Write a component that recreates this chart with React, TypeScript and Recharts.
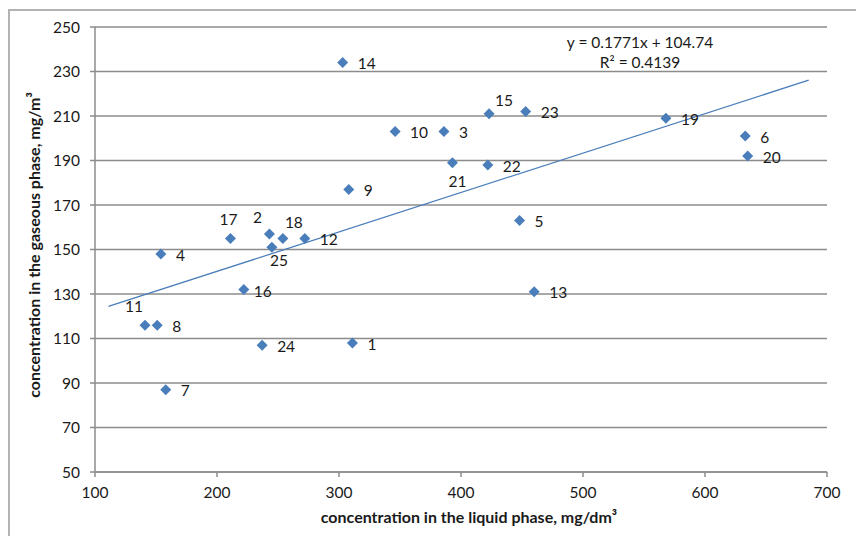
import { CartesianGrid, ReferenceLine, Scatter, ScatterChart, XAxis, YAxis } from "recharts";

const sampleIds = [1, 2, 3, 4, 5, 6, 7, 8, 9, 10, 11, 12, 13, 14, 15, 16, 17, 18, 19, 20, 21, 22, 23, 24, 25];
const liquidPhase = [311, 243, 386, 154, 448, 633, 158, 151, 308, 346, 141, 272, 460, 303, 423, 222, 211, 254, 568, 635, 393, 422, 453, 237, 245];
const gaseousPhase = [108, 157, 203, 148, 163, 201, 87, 116, 177, 203, 116, 155, 131, 234, 211, 132, 155, 155, 209, 192, 189, 188, 212, 107, 151];

const xTicks = [100, 200, 300, 400, 500, 600, 700];
const yTicks = [50, 70, 90, 110, 130, 150, 170, 190, 210, 230, 250];

// trendline ends
const trendStart = { x: 111, y: 124.4 };
const trendEnd = { x: 685, y: 226.1 };

const equation = "y = 0.1771x + 104.74";
const rSquared = "0.4139";

// where each point's number sits relative to its marker
const labelPlacement: Record<number, { dx: number; dy: number; anchor: "start" | "middle" }> = {
  2: { dx: -12, dy: -17, anchor: "middle" },
  11: { dx: -11, dy: -19, anchor: "middle" },
  15: { dx: 15, dy: -13, anchor: "middle" },
  16: { dx: 10, dy: 2, anchor: "start" },
  17: { dx: -2, dy: -19, anchor: "middle" },
  18: { dx: 11, dy: -16, anchor: "middle" },
  21: { dx: 5, dy: 19, anchor: "middle" },
  25: { dx: 7, dy: 13, anchor: "middle" },
};

const points = sampleIds.map((id, i) => ({ id, x: liquidPhase[i], y: gaseousPhase[i] }));

const BLUE = "#4A7EBB";
const GRID = "#8c8c8c";
const FONT = "Lato, 'Open Sans', sans-serif";
const TEXT = "#1a1a1a";

function DiamondPoint(props: any) {
  const { cx, cy, payload } = props;
  if (cx == null || cy == null) return null;
  const r = 5.5;
  const place = labelPlacement[payload.id] || { dx: 15, dy: 1, anchor: "start" };
  return (
    <g>
      <polygon points={`${cx},${cy - r} ${cx + r},${cy} ${cx},${cy + r} ${cx - r},${cy}`} fill={BLUE} />
      <text
        x={cx + place.dx}
        y={cy + place.dy}
        dy="0.36em"
        textAnchor={place.anchor}
        fontSize={15.5}
        fontFamily={FONT}
        fill={TEXT}
      >
        {payload.id}
      </text>
    </g>
  );
}

export default function App() {
  return (
    <div style={{ position: "relative", width: 856, height: 528, overflow: "hidden", fontFamily: FONT, background: "#fff" }}>
      <div
        style={{
          position: "absolute",
          left: 0,
          top: 1,
          width: 853,
          height: 600,
          boxSizing: "border-box",
          border: "2px solid #b3b3b3",
        }}
      />
      <div style={{ position: "absolute", left: 0, top: 0 }}>
        <ScatterChart width={856} height={528} margin={{ top: 19, right: 37, bottom: 34, left: 0 }}>
          <CartesianGrid vertical={false} stroke={GRID} strokeWidth={1.5} />
          <XAxis
            type="number"
            dataKey="x"
            domain={[100, 700]}
            ticks={xTicks}
            height={30}
            tickSize={5}
            tickMargin={10}
            stroke={GRID}
            strokeWidth={1.5}
            tick={{ fill: TEXT, fontSize: 15.5, fontFamily: FONT }}
            allowDataOverflow
          />
          <YAxis
            type="number"
            dataKey="y"
            domain={[50, 250]}
            ticks={yTicks}
            width={87}
            tickSize={5}
            tickMargin={10}
            stroke={GRID}
            strokeWidth={1.5}
            tick={{ fill: TEXT, fontSize: 15.5, fontFamily: FONT }}
            allowDataOverflow
          />
          <Scatter data={points} shape={DiamondPoint} isAnimationActive={false} />
          <ReferenceLine segment={[trendStart, trendEnd]} stroke={BLUE} strokeWidth={1.25} />
        </ScatterChart>
      </div>
      <svg width={856} height={528} style={{ position: "absolute", left: 0, top: 0, pointerEvents: "none" }}>
        <text x={632} y={34.7} dy="0.36em" textAnchor="middle" fontSize={15.5} fontFamily={FONT} fill={TEXT}>
          {equation}
        </text>
        <text x={632} y={54.3} dy="0.36em" textAnchor="middle" fontSize={15.5} fontFamily={FONT} fill={TEXT}>
          R² = {rSquared}
        </text>
        <text x={461} y={509} dy="0.36em" textAnchor="middle" fontSize={16} fontWeight="bold" fontFamily={FONT} fill={TEXT}>
          concentration in the liquid phase, mg/dm³
        </text>
        <text
          x={26}
          y={237}
          dy="0.36em"
          textAnchor="middle"
          fontSize={16}
          fontWeight="bold"
          fontFamily={FONT}
          fill={TEXT}
          transform="rotate(-90 26 237)"
        >
          concentration in the gaseous phase, mg/m³
        </text>
      </svg>
    </div>
  );
}
